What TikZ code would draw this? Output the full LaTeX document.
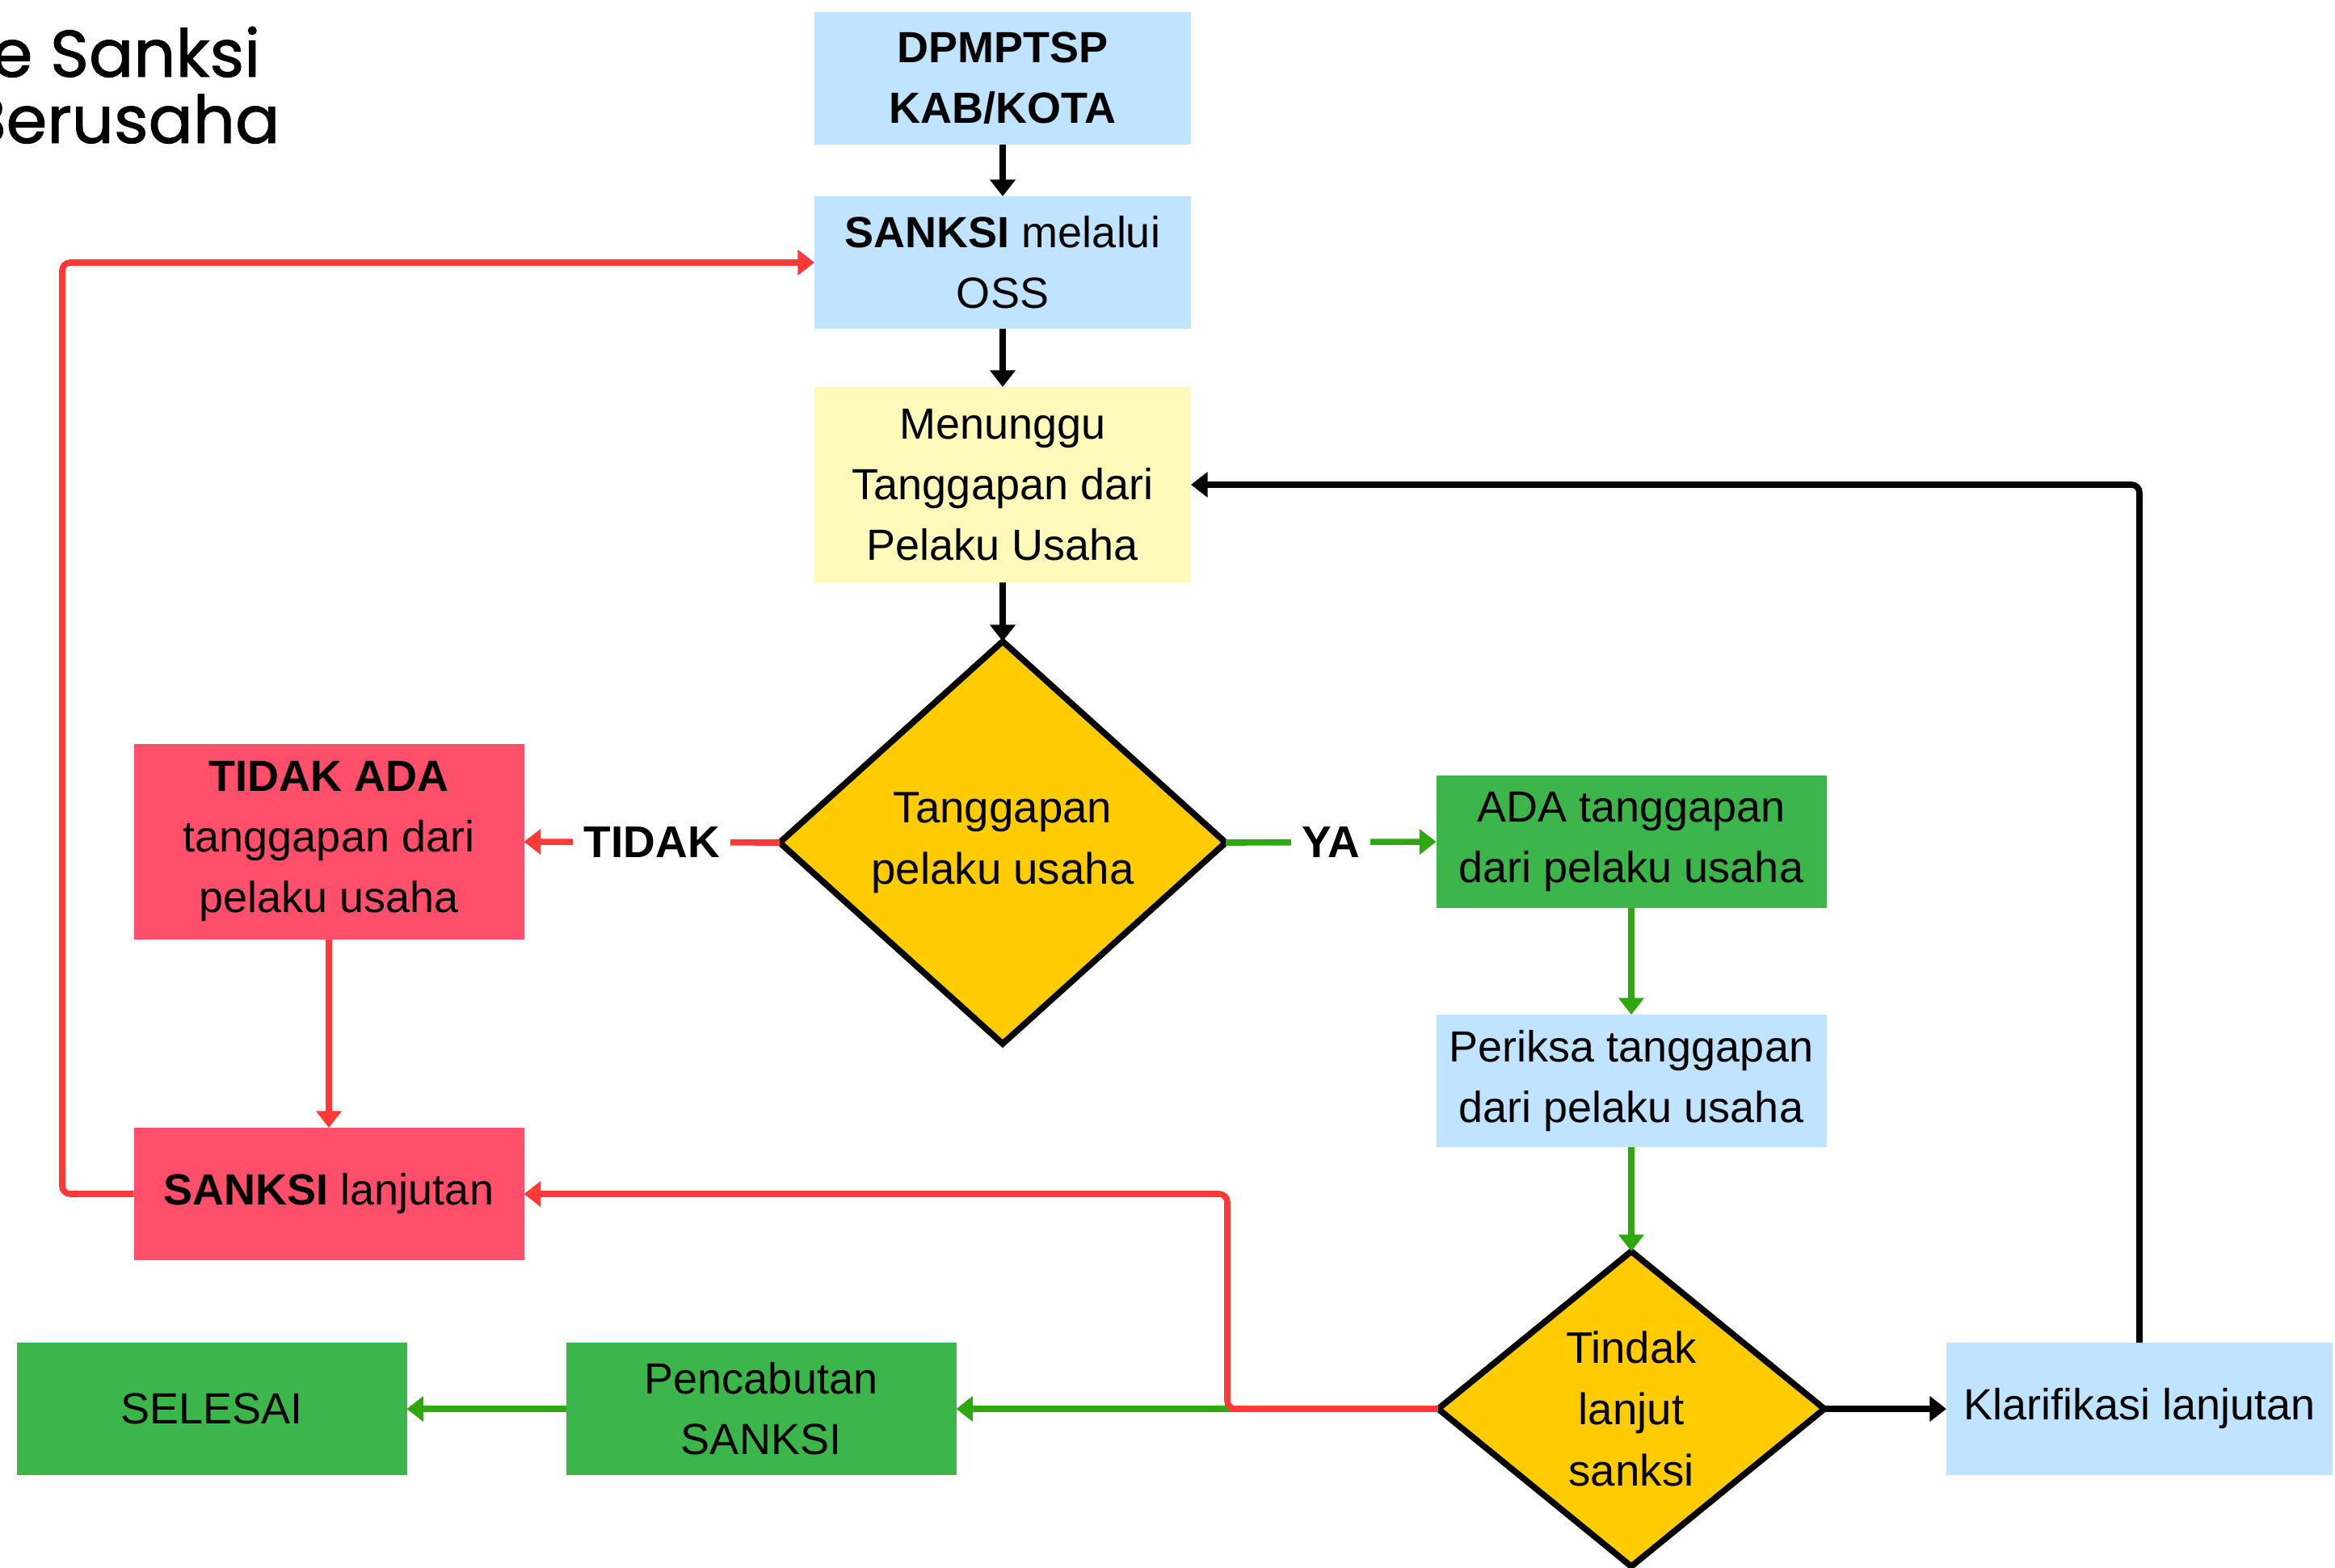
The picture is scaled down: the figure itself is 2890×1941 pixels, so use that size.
\documentclass[tikz,border=0pt]{standalone}
\usepackage{fontspec}
\setmainfont{Liberation Sans}
\newfontfamily\titlefont[FakeBold=1.2]{Poppins}
\usetikzlibrary{shapes.geometric,arrows.meta}
\definecolor{lblue}{HTML}{C0E4FF}
\definecolor{lyellow}{HTML}{FFF9BA}
\definecolor{dyellow}{HTML}{FFCC00}
\definecolor{rbox}{HTML}{FF4F6B}
\definecolor{gbox}{HTML}{3CB54A}
\definecolor{rline}{HTML}{FF3838}
\definecolor{gline}{HTML}{2FA80F}
\begin{document}
\begin{tikzpicture}[x=0.3pt,y=-0.3pt,
  box/.style={rectangle, inner sep=0pt, outer sep=0pt, minimum width=483*0.3pt,
    minimum height=164*0.3pt, align=center, font=\fontsize{16.2}{22.5}\selectfont},
  tall/.style={minimum height=242*0.3pt},
  dia/.style={diamond, draw=black, line width=2.3pt, fill=dyellow, inner sep=0pt, outer sep=0pt,
    align=center, font=\fontsize{16.4}{22.8}\selectfont},
  arr/.style={line width=2.3pt, -{Triangle[length=6.2pt,width=9.2pt]}},
  lbl/.style={fill=white, inner xsep=4pt, inner ysep=1pt, font=\bfseries\fontsize{16.5}{20}\selectfont}
]
\useasboundingbox (0,0) rectangle (2890,1941);
\fill[white] (0,0) rectangle (2890,1941);
\begin{scope}
\clip (0,0) rectangle (2890,1941);
\node[anchor=base east, inner sep=0pt, font=\titlefont\fontsize{24.5}{24.5}\selectfont] (t1) at (323,95) {e Sanksi};
\node[anchor=base east, inner sep=0pt, font=\titlefont\fontsize{24.5}{24.5}\selectfont] (t2) at (347,177) {Berusaha};
\end{scope}

% nodes
\node[box, fill=lblue, minimum width=466*0.3pt] (dp) at (1241,97) {\textbf{DPMPTSP}\\\textbf{KAB/KOTA}};
\node[box, fill=lblue, minimum width=466*0.3pt] (oss) at (1241,325) {\textbf{SANKSI} melalui\\OSS};
\node[box, tall, fill=lyellow, minimum width=466*0.3pt] (mt) at (1241,600) {Menunggu\\Tanggapan dari\\Pelaku Usaha};
\node[dia, minimum width=552*0.3pt, minimum height=498*0.3pt] (d1) at (1241,1043) {Tanggapan\\pelaku usaha};
\node[box, tall, fill=rbox] (ta) at (407,1042) {\textbf{TIDAK ADA}\\tanggapan dari\\pelaku usaha};
\node[box, fill=gbox] (ada) at (2019,1042) {ADA tanggapan\\dari pelaku usaha};
\node[box, fill=lblue] (pr) at (2019,1338) {Periksa tanggapan\\dari pelaku usaha};
\node[dia, minimum width=478*0.3pt, minimum height=390*0.3pt] (d2) at (2019,1744) {Tindak\\lanjut\\sanksi};
\node[box, fill=lblue, minimum width=478*0.3pt] (kl) at (2648,1744) {Klarifikasi lanjutan};
\node[box, fill=rbox] (sl) at (407,1478) {\textbf{SANKSI} lanjutan};
\node[box, fill=gbox] (pc) at (942,1744) {Pencabutan\\SANKSI};
\node[box, fill=gbox] (se) at (262,1744) {SELESAI};

\coordinate (lk) at (77,1478);
\coordinate (rj) at (1519,1744);

% black connectors
\draw[arr] (dp.south) -- (oss.north);
\draw[arr] (oss.south) -- (mt.north);
\draw[arr] (mt.south) -- (d1.north);
\draw[arr] (d2.east) -- (kl.west);
\draw[arr, rounded corners=3pt] (kl.north) |- (mt.east);

% green connectors
\draw[arr, gline] (d1.east) -- node[lbl, text=black] {YA} (ada.west);
\draw[arr, gline] (ada.south) -- (pr.north);
\draw[arr, gline] (pr.south) -- (d2.north);
\draw[arr, gline] (d2.west) -- (pc.east);
\draw[arr, gline] (pc.west) -- (se.east);

% red connectors
\draw[arr, rline] (d1.west) -- node[lbl, text=black] {TIDAK} (ta.east);
\draw[arr, rline] (ta.south) -- (sl.north);
\draw[arr, rline, rounded corners=3pt] (d2.west) -- (rj) |- (sl.east);
\draw[arr, rline, rounded corners=3pt] (sl.west) -- (lk) |- (oss.west);
\end{tikzpicture}
\end{document}
